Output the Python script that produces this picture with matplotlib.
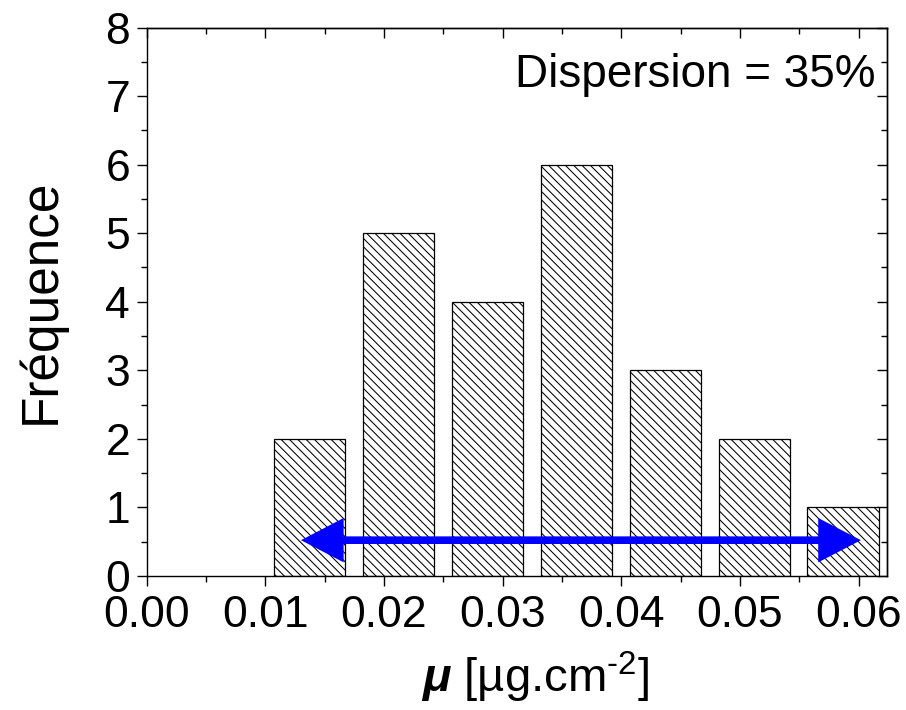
import numpy as np
import matplotlib
matplotlib.use("Agg")
import matplotlib.pyplot as plt

# histogram of mu values
centers = [0.0137, 0.0212, 0.0287, 0.0362, 0.0437, 0.0512, 0.0587]
counts = [2, 5, 4, 6, 3, 2, 1]
bar_width = 0.006
arrow_x = [0.0130, 0.0602]
arrow_y = 0.52
xticks = [0.00, 0.01, 0.02, 0.03, 0.04, 0.05, 0.06]
yticks = [0, 1, 2, 3, 4, 5, 6, 7, 8]

plt.rcParams['font.family'] = ['Liberation Sans', 'DejaVu Sans']
plt.rcParams['mathtext.fontset'] = 'custom'
plt.rcParams['mathtext.rm'] = 'Liberation Sans'
plt.rcParams['mathtext.it'] = 'Liberation Sans:italic'
plt.rcParams['mathtext.bf'] = 'Liberation Sans:bold'
plt.rcParams['mathtext.bfit'] = 'Liberation Sans:italic:bold'
plt.rcParams['hatch.linewidth'] = 0.75

fig = plt.figure(figsize=(9.06, 7.10), dpi=100)
ax = fig.add_axes([0.162, 0.189, 0.817, 0.772])

ax.bar(centers, counts, width=bar_width, color='white', edgecolor='black',
       linewidth=0.9, hatch='\\\\\\\\')

ax.annotate('', xy=(arrow_x[0], arrow_y), xytext=(arrow_x[1], arrow_y),
            arrowprops=dict(arrowstyle='<|-|>,head_length=1.0,head_width=0.52',
                            mutation_scale=22, color='#0000ff', lw=5.5,
                            joinstyle='miter', capstyle='butt',
                            shrinkA=0, shrinkB=0))

ax.set_xlim(0, 0.0624)
ax.set_ylim(0, 8)
ax.set_xticks(xticks)
ax.set_xticklabels(['%.2f' % v for v in xticks])
ax.set_yticks(yticks)
ax.set_xticks(np.arange(0.005, 0.0624, 0.01), minor=True)
ax.set_yticks(np.arange(0.5, 8, 1.0), minor=True)

ax.tick_params(which='both', labelsize=32, width=1.0)
ax.tick_params(which='major', length=7)
ax.tick_params(which='minor', length=4)
ax.tick_params(axis='x', which='both', direction='out', top=False, pad=7)
ax.tick_params(axis='y', which='both', direction='out', right=False, pad=5)

# inward ticks on top and right
axt = ax.secondary_xaxis('top')
axt.set_xticks(xticks)
axt.set_xticks(np.arange(0.005, 0.0624, 0.01), minor=True)
axt.tick_params(which='both', direction='in', labeltop=False, width=1.0)
axt.tick_params(which='major', length=7)
axt.tick_params(which='minor', length=4)
axr = ax.secondary_yaxis('right')
axr.set_yticks(yticks)
axr.set_yticks(np.arange(0.5, 8, 1.0), minor=True)
axr.tick_params(which='both', direction='in', labelright=False, width=1.0)
axr.tick_params(which='major', length=7)
axr.tick_params(which='minor', length=4)
for s in ax.spines.values():
    s.set_linewidth(1.0)
axt.spines['top'].set_linewidth(1.0)
axr.spines['right'].set_linewidth(1.0)

ax.text(0.984, 0.914, 'Dispersion = 35%', transform=ax.transAxes,
        ha='right', va='center', fontsize=33)

ax.set_ylabel('Fréquence', fontsize=37)
ax.yaxis.set_label_coords(-0.11, 0.5)
ax.set_xlabel(r'$\mathbfit{\mu}$ [µg.cm$^{\text{-2}}$]', fontsize=34)
ax.xaxis.set_label_coords(0.525, -0.135)

fig.savefig('out.png', dpi=100)
